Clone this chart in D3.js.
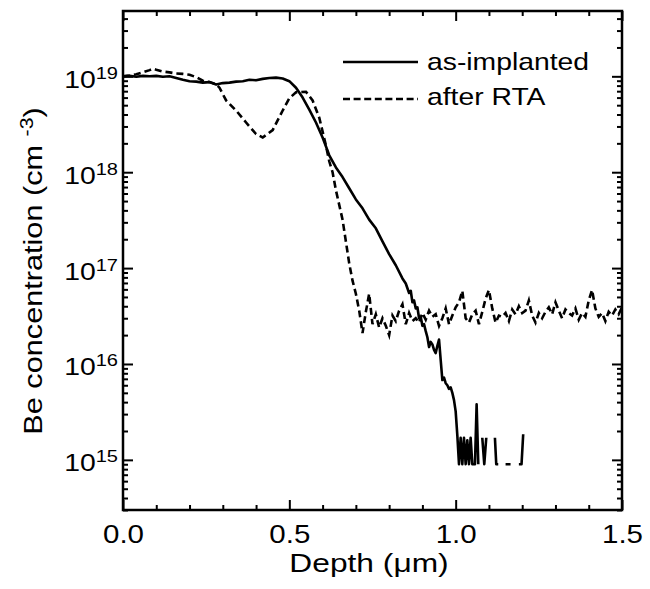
<!DOCTYPE html>
<html>
<head>
<meta charset="utf-8">
<script src="https://cdn.jsdelivr.net/npm/d3@7"></script>
<style>
  body { margin: 0; background: #fff; }
  text { font-family: "Liberation Sans", Arial, sans-serif; fill: #000; }
</style>
</head>
<body>
<div class="canvas"></div>
<script>
// ---- data (depth in um, Be concentration in cm^-3) ----
// null = no counts (gap in the as-implanted trace)
const depthImplanted = [
  0.00, 0.02, 0.04, 0.06, 0.08, 0.10, 0.12, 0.14, 0.16, 0.18,
  0.20, 0.22, 0.24, 0.26, 0.28, 0.30, 0.32, 0.34, 0.36, 0.38,
  0.40, 0.42, 0.44, 0.46, 0.48, 0.50, 0.52, 0.54, 0.56, 0.58,
  0.60, 0.62, 0.64, 0.66, 0.68, 0.70, 0.72, 0.74, 0.76, 0.78,
  0.80, 0.82, 0.84, 0.85, 0.86, 0.865, 0.87, 0.875, 0.88, 0.885,
  0.89, 0.895, 0.90, 0.905, 0.91, 0.915, 0.92, 0.925, 0.93, 0.935,
  0.94, 0.945, 0.95, 0.955, 0.96, 0.965, 0.97, 0.975, 0.98, 0.985,
  0.99, 0.995, 1.000, 1.005, 1.010,
  1.015, 1.020, 1.025, 1.030, 1.035, 1.040, 1.045, 1.050, 1.058, 1.063,
  1.068, 1.072, 1.080, 1.086, 1.092, 1.100, 1.118, 1.122, 1.128, 1.135,
  1.150, 1.165, 1.172, 1.190, 1.198, 1.203
];
const concImplanted = [
  1.00e19, 1.01e19, 9.9e18, 1.01e19, 1.00e19, 1.01e19, 9.9e18, 1.00e19, 9.6e18, 9.2e18,
  8.9e18, 8.8e18, 8.6e18, 8.7e18, 8.2e18, 8.5e18, 8.6e18, 8.8e18, 8.9e18, 9.2e18,
  9.1e18, 9.4e18, 9.6e18, 9.7e18, 9.5e18, 8.9e18, 7.6e18, 6.0e18, 4.5e18, 3.3e18,
  2.3e18, 1.5e18, 1.12e18, 8.9e17, 6.8e17, 5.2e17, 4.2e17, 3.2e17, 2.6e17, 1.9e17,
  1.4e17, 1.07e17, 7.8e16, 6.9e16, 5.5e16, 5.8e16, 4.4e16, 4.6e16, 3.8e16, 3.9e16,
  3.0e16, 3.1e16, 2.5e16, 2.6e16, 2.2e16, 1.9e16, 1.5e16, 1.7e16, 1.6e16, 1.4e16,
  1.3e16, 1.55e16, 1.8e16, 1.1e16, 6.8e15, 7.2e15, 6.3e15, 6.0e15, 5.5e15, 5.7e15,
  5.0e15, 4.2e15, 3.2e15, 1.8e15, 9e14,
  1.7e15, 9e14, 1.7e15, 9e14, 1.6e15, 9e14, 1.7e15, 9e14, 9e14, 3.8e15,
  9e14, null, 1.7e15, 9e14, 1.7e15, null, 1.7e15, 9e14, 9e14, null,
  9e14, 9e14, null, 9e14, 9e14, 1.85e15
];

const depthRTA = [
  0.00, 0.02, 0.04, 0.06, 0.08, 0.09, 0.10, 0.12, 0.14, 0.16,
  0.18, 0.20, 0.22, 0.24, 0.26, 0.28, 0.29, 0.31, 0.34, 0.37,
  0.40, 0.42, 0.45, 0.48, 0.50, 0.52, 0.55, 0.57, 0.59, 0.61,
  0.62, 0.63, 0.64, 0.66, 0.68, 0.69, 0.70, 0.71, 0.72, 0.73,
  0.74, 0.75, 0.76, 0.77, 0.78, 0.79, 0.80, 0.81, 0.82, 0.83,
  0.84, 0.85, 0.86, 0.87, 0.88, 0.89, 0.90, 0.91, 0.92, 0.93,
  0.94, 0.95, 0.96, 0.97, 0.98, 0.99, 1.00, 1.01, 1.02, 1.03,
  1.04, 1.05, 1.06, 1.07, 1.08, 1.09, 1.10, 1.11, 1.12, 1.13,
  1.14, 1.15, 1.16, 1.17, 1.18, 1.19, 1.20, 1.21, 1.22, 1.23,
  1.24, 1.25, 1.26, 1.27, 1.28, 1.29, 1.30, 1.31, 1.32, 1.33,
  1.34, 1.35, 1.36, 1.37, 1.38, 1.39, 1.40, 1.41, 1.42, 1.43,
  1.44, 1.45, 1.46, 1.47, 1.48, 1.49, 1.50
];
const concRTA = [
  1.00e19, 1.02e19, 1.05e19, 1.10e19, 1.16e19, 1.20e19, 1.17e19, 1.12e19, 1.10e19, 1.07e19,
  1.06e19, 1.04e19, 9.8e18, 9.0e18, 8.7e18, 8.3e18, 7.6e18, 5.6e18, 4.4e18, 3.3e18,
  2.5e18, 2.3e18, 2.75e18, 4.4e18, 5.9e18, 6.8e18, 6.9e18, 5.6e18, 3.7e18, 1.9e18,
  1.3e18, 1.0e18, 6.5e17, 3.2e17, 1.12e17, 7.4e16, 5.4e16, 3.6e16, 2.1e16, 3.5e16,
  5.4e16, 2.6e16, 3.3e16, 2.4e16, 3.0e16, 2.5e16, 2.0e16, 3.2e16, 2.8e16, 3.6e16,
  4.2e16, 2.6e16, 3.4e16, 2.8e16, 3.0e16, 2.7e16, 3.4e16, 2.9e16, 3.6e16, 3.1e16,
  3.3e16, 2.5e16, 3.0e16, 3.8e16, 2.6e16, 3.2e16, 3.9e16, 4.4e16, 5.8e16, 3.0e16,
  2.7e16, 3.3e16, 3.6e16, 2.6e16, 3.5e16, 4.8e16, 5.9e16, 3.8e16, 2.7e16, 3.2e16,
  3.1e16, 3.4e16, 2.8e16, 3.7e16, 3.3e16, 4.0e16, 3.4e16, 3.6e16, 4.6e16, 3.2e16,
  2.7e16, 3.4e16, 3.0e16, 3.5e16, 3.9e16, 3.3e16, 4.4e16, 3.6e16, 3.0e16, 3.7e16,
  3.4e16, 3.2e16, 3.8e16, 2.9e16, 3.4e16, 3.1e16, 4.6e16, 5.9e16, 3.8e16, 3.1e16,
  3.4e16, 2.8e16, 3.5e16, 3.2e16, 3.7e16, 3.3e16, 3.9e16
];

const xTickValues = [0, 0.5, 1.0, 1.5];
const xMinorValues = [0.1, 0.2, 0.3, 0.4, 0.6, 0.7, 0.8, 0.9, 1.1, 1.2, 1.3, 1.4];
const yDecades = [1e15, 1e16, 1e17, 1e18, 1e19];
const seriesNames = ['as-implanted', 'after RTA'];

// ---- layout ----
const width = 650, height = 589;
const margin = {top: 11, right: 28, bottom: 79, left: 123};
const graphWidth = width - margin.left - margin.right;
const graphHeight = height - margin.top - margin.bottom;
const SX = 1.18; // the scanned font is wider than Arial

const svg = d3.select('.canvas')
  .append('svg')
    .attr('width', width)
    .attr('height', height);

const graph = svg.append('g')
  .attr('transform', `translate(${margin.left}, ${margin.top})`);

const x = d3.scaleLinear().domain([0, 1.5]).range([0, graphWidth]);
const y = d3.scaleLog().domain([3e14, 4.8e19]).range([graphHeight, 0]);

const yMinor = y.ticks().filter(v => !yDecades.some(d => Math.abs(v - d) / d < 1e-6));

// clip so curves stay in the box
svg.append('clipPath').attr('id', 'plot')
  .append('rect').attr('width', graphWidth).attr('height', graphHeight);

// ---- curves ----
const implanted = depthImplanted.map((d, i) => ({depth: d, conc: concImplanted[i]}));
const rta = depthRTA.map((d, i) => ({depth: d, conc: concRTA[i]}));

const line = d3.line()
  .defined(d => d.conc != null)
  .x(d => x(d.depth))
  .y(d => y(d.conc));

const curves = graph.append('g').attr('clip-path', 'url(#plot)');
curves.append('path').datum(implanted)
  .attr('d', line)
  .attr('fill', 'none').attr('stroke', '#000')
  .attr('stroke-width', 2.6).attr('stroke-linejoin', 'round');
curves.append('path').datum(rta)
  .attr('d', line)
  .attr('fill', 'none').attr('stroke', '#000')
  .attr('stroke-width', 2.6).attr('stroke-dasharray', '7,4');

// ---- axes: ticks point inward on all four sides ----
const styleAxis = g => {
  g.select('.domain').remove();
  g.selectAll('line').attr('stroke', '#000').attr('stroke-width', 2);
};

graph.append('g').attr('transform', `translate(0, ${graphHeight})`)
  .call(d3.axisBottom(x).tickValues(xMinorValues).tickSize(-5).tickFormat(''))
  .call(styleAxis);
const xAxisGroup = graph.append('g').attr('transform', `translate(0, ${graphHeight})`)
  .call(d3.axisBottom(x).tickValues(xTickValues).tickSize(-10).tickFormat(d3.format('.1f')))
  .call(styleAxis);
xAxisGroup.selectAll('text')
  .attr('y', 33).attr('dy', null)
  .attr('font-size', 25)
  .attr('transform', `scale(${SX},1)`);

graph.append('g')
  .call(d3.axisTop(x).tickValues(xMinorValues).tickSize(-5).tickFormat(''))
  .call(styleAxis);
graph.append('g')
  .call(d3.axisTop(x).tickValues(xTickValues).tickSize(-10).tickFormat(''))
  .call(styleAxis);

graph.append('g')
  .call(d3.axisLeft(y).tickValues(yMinor).tickSize(-5).tickFormat(''))
  .call(styleAxis);
const yAxisGroup = graph.append('g')
  .call(d3.axisLeft(y).tickValues(yDecades).tickSize(-10).tickFormat(''))
  .call(styleAxis);

graph.append('g').attr('transform', `translate(${graphWidth}, 0)`)
  .call(d3.axisRight(y).tickValues(yMinor).tickSize(-5).tickFormat(''))
  .call(styleAxis);
graph.append('g').attr('transform', `translate(${graphWidth}, 0)`)
  .call(d3.axisRight(y).tickValues(yDecades).tickSize(-10).tickFormat(''))
  .call(styleAxis);

// 10^n labels with superscript
const yLabels = yAxisGroup.selectAll('.tick').append('text')
  .attr('text-anchor', 'end')
  .attr('transform', `translate(-5, 11) scale(${SX},1)`);
yLabels.append('tspan').attr('font-size', 24).text('10');
yLabels.append('tspan').attr('font-size', 17).attr('dy', -9)
  .text(d => Math.round(Math.log10(d)));

// frame
graph.append('rect')
  .attr('width', graphWidth).attr('height', graphHeight)
  .attr('fill', 'none').attr('stroke', '#000').attr('stroke-width', 2.5);

// ---- axis titles ----
svg.append('text')
  .attr('text-anchor', 'middle')
  .attr('font-size', 26)
  .attr('transform', `translate(369, 572) scale(${SX + 0.04},1)`)
  .text('Depth (\u03bcm)');

const yTitle = svg.append('text')
  .attr('text-anchor', 'middle')
  .attr('font-size', 26)
  .attr('transform', `translate(42, 271) rotate(-90) scale(${SX},1)`);
yTitle.append('tspan').text('Be concentration (cm ');
yTitle.append('tspan').attr('font-size', 18).attr('dy', -9).text('-3');
yTitle.append('tspan').attr('dy', 9).text(')');

// ---- legend ----
const legend = svg.append('g');
const legendRows = [
  {name: seriesNames[0], dash: null, ly: 62, ty: 70},
  {name: seriesNames[1], dash: '7,3.6', ly: 99, ty: 105}
];
legendRows.forEach(r => {
  legend.append('line')
    .attr('x1', 343).attr('x2', 418).attr('y1', r.ly).attr('y2', r.ly)
    .attr('stroke', '#000').attr('stroke-width', 2.6)
    .attr('stroke-dasharray', r.dash);
  legend.append('text')
    .attr('font-size', 24)
    .attr('transform', `translate(427, ${r.ty}) scale(${SX},1)`)
    .text(r.name);
});
</script>
</body>
</html>
